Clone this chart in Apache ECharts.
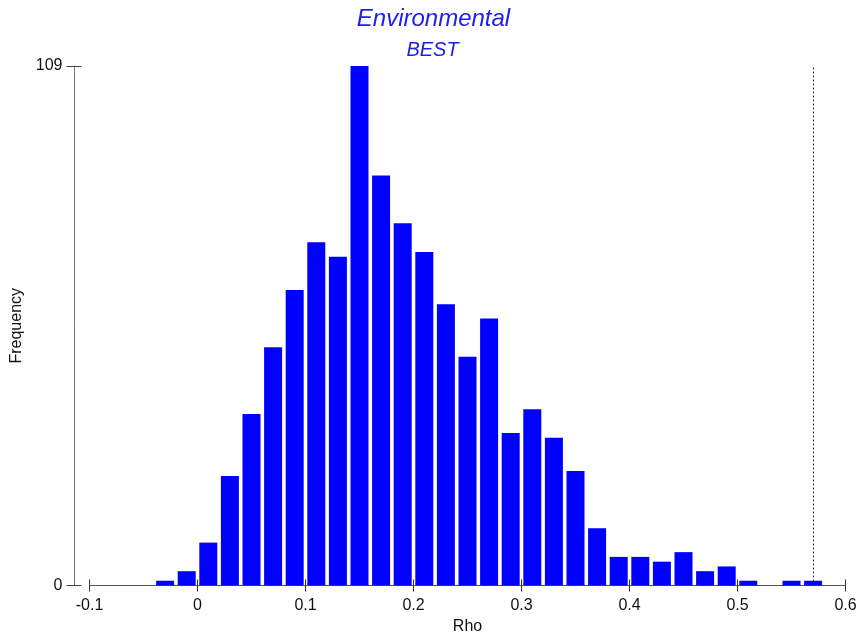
<!DOCTYPE html>
<html>
<head>
<meta charset="utf-8">
<style>
  html, body { margin: 0; padding: 0; background: #ffffff; }
  #chart { width: 859px; height: 635px; }
</style>
<script src="https://cdn.jsdelivr.net/npm/echarts@6/dist/echarts.min.js"></script>
</head>
<body>
<div id="chart"></div>
<script>
// Permutation distribution of Rho (bin width 0.02), bin centres and counts
const binCenters = [-0.03, -0.01, 0.01, 0.03, 0.05, 0.07, 0.09, 0.11, 0.13, 0.15,
                    0.17, 0.19, 0.21, 0.23, 0.25, 0.27, 0.29, 0.31, 0.33, 0.35,
                    0.37, 0.39, 0.41, 0.43, 0.45, 0.47, 0.49, 0.51, 0.53, 0.55, 0.57];
const counts = [1, 3, 9, 23, 36, 50, 62, 72, 69, 109,
                86, 76, 70, 59, 48, 56, 32, 37, 31, 24,
                12, 6, 6, 5, 7, 3, 4, 1, 0, 1, 1];
// Observed statistic
const observedRho = 0.573;
// Axis ranges and tick labels
const xTicks = ['-0.1', '0', '0.1', '0.2', '0.3', '0.4', '0.5', '0.6'];
const yTicks = ['0', '109'];

const font = 'Liberation Sans, Arial, sans-serif';
const labelColor = '#111111';
const xMin = parseFloat(xTicks[0]);
const xMax = parseFloat(xTicks[xTicks.length - 1]);
const yMax = parseFloat(yTicks[yTicks.length - 1]);

const fmtX = v => {
  const r = Math.round(v * 10) / 10;
  return r === 0 ? '0' : String(r);
};

const baseX = {
  type: 'value', min: xMin, max: xMax, interval: 0.1,
  position: 'bottom', splitLine: { show: false }
};
const baseY = {
  type: 'value', min: 0, max: yMax, interval: yMax,
  position: 'left', offset: 15, splitLine: { show: false }
};

const chart = echarts.init(document.getElementById('chart'), null, { renderer: 'canvas' });
chart.setOption({
  animation: false,
  backgroundColor: '#ffffff',
  title: [
    { text: 'Environmental', left: 428.5, top: 2, textAlign: 'center',
      textStyle: { fontFamily: font, fontSize: 24, fontStyle: 'italic', fontWeight: 'normal', color: '#2121e6' } },
    { text: 'BEST', left: 427.5, top: 35, textAlign: 'center',
      textStyle: { fontFamily: font, fontSize: 20, fontStyle: 'italic', fontWeight: 'normal', color: '#2121e6' } }
  ],
  grid: { left: 89.5, right: 13.5, top: 66, bottom: 49.5, containLabel: false, outerBoundsMode: 'none' },
  xAxis: [
    Object.assign({}, baseX, {
      name: 'Rho', nameLocation: 'middle', nameGap: 33,
      nameTextStyle: { fontFamily: font, fontSize: 16, color: labelColor },
      axisLine: { show: true, onZero: false, lineStyle: { color: '#555555', width: 1 } },
      axisTick: { show: true, inside: false, length: 6, lineStyle: { color: '#333333' } },
      axisLabel: { show: true, margin: 12, fontFamily: font, fontSize: 16, color: labelColor, formatter: fmtX }
    }),
    Object.assign({}, baseX, {
      axisLine: { show: false, onZero: false },
      axisTick: { show: true, inside: true, length: 6, lineStyle: { color: '#333333' } },
      axisLabel: { show: false }
    })
  ],
  yAxis: [
    Object.assign({}, baseY, {
      name: 'Frequency', nameLocation: 'middle', nameGap: 49, nameRotate: 90,
      nameTextStyle: { fontFamily: font, fontSize: 16, color: labelColor },
      axisLine: { show: true, onZero: false, lineStyle: { color: '#777777', width: 1 } },
      axisTick: { show: true, inside: false, length: 8, lineStyle: { color: '#444444' } },
      axisLabel: { show: true, margin: 12, fontFamily: font, fontSize: 16, color: labelColor }
    }),
    Object.assign({}, baseY, {
      axisLine: { show: false, onZero: false },
      axisTick: { show: true, inside: true, length: 7, lineStyle: { color: '#444444' } },
      axisLabel: { show: false }
    })
  ],
  series: [{
    type: 'bar',
    xAxisIndex: 0,
    yAxisIndex: 0,
    barWidth: 18,
    itemStyle: { color: '#0000ff' },
    data: binCenters.map((c, i) => [c, counts[i]]),
    markLine: {
      silent: true,
      symbol: ['none', 'none'],
      label: { show: false },
      lineStyle: { color: '#333333', type: [2, 2], width: 1 },
      data: [{ xAxis: observedRho }]
    }
  }]
});
</script>
</body>
</html>
